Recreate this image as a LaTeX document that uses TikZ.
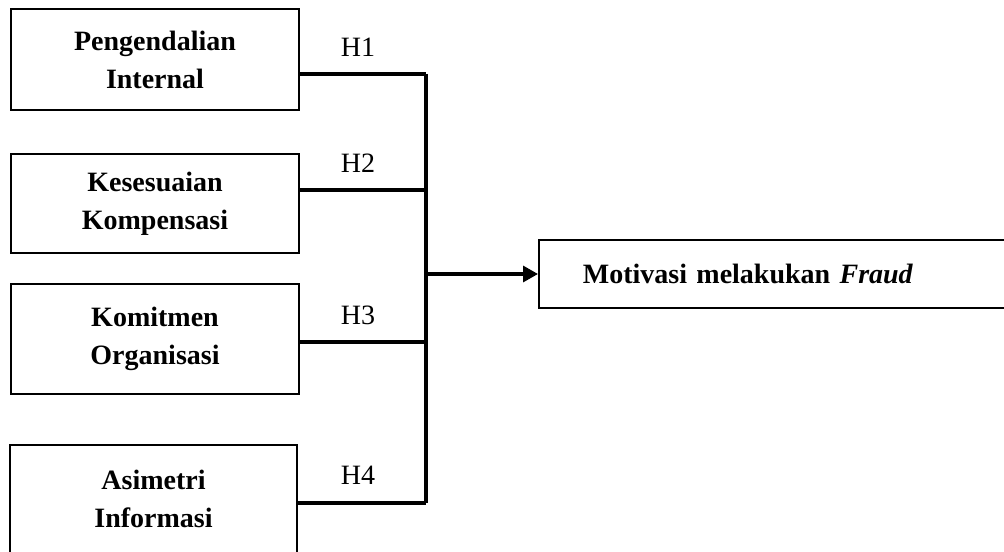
\documentclass[tikz,border=0pt]{standalone}
\usepackage{fontspec}
\setmainfont{Liberation Serif}
\usetikzlibrary{arrows.meta}
\tikzset{
  kotak/.style={draw, line width=0.9pt, font=\bfseries, align=center},
  garis/.style={line width=1.6pt},
}
\begin{document}
\begin{tikzpicture}[x=0.5pt, y=-0.5pt]
  \fontsize{14}{19}\selectfont
  % Batas gambar
  \useasboundingbox (0,0) rectangle (1004,551);
  \clip (0,0) rectangle (1004,551);

  % Variabel bebas
  \node[kotak, minimum width=144pt, minimum height=50.5pt] (pi) at (155,59.5) {Pengendalian\\Internal};
  \node[kotak, minimum width=144pt, minimum height=49.5pt] (kk) at (155,203.5) {Kesesuaian\\Kompensasi};
  \node[kotak, minimum width=144pt, minimum height=55pt] (ko) at (155,339) {Komitmen\\Organisasi};
  \node[kotak, minimum width=143.5pt, minimum height=54pt] (ai) at (153.5,499) {Asimetri\\Informasi};

  % Variabel terikat
  \node[kotak, anchor=west, minimum height=34pt, text width=229pt, inner xsep=22pt, align=left] (mf) at (538,274) {Motivasi melakukan \textit{Fraud}};

  % Titik sambung
  \coordinate (j1) at (426,74);
  \coordinate (j2) at (426,190);
  \coordinate (j3) at (426,342);
  \coordinate (j4) at (426,503);
  \coordinate (jm) at (426,274);

  % Garis hipotesis
  \draw[garis] (j1 -| pi.east) -- (j1);
  \draw[garis] (j2 -| kk.east) -- (j2);
  \draw[garis] (j3 -| ko.east) -- (j3);
  \draw[garis] (j4 -| ai.east) -- (j4);
  \draw[garis] (j1) -- (j4);
  \draw[garis, -{Triangle[length=7.5pt, width=8pt]}] (jm) -- (mf.west);

  % Label
  \node (h1) at (358,47) {H1};
  \node (h2) at (358,163) {H2};
  \node (h3) at (358,315) {H3};
  \node (h4) at (358,475) {H4};

\end{tikzpicture}
\end{document}
